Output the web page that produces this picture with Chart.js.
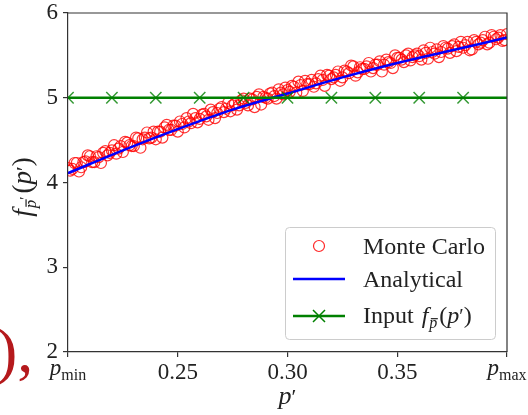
<!DOCTYPE html>
<html>
<head>
<meta charset="utf-8">
<script src="https://cdn.jsdelivr.net/npm/chart.js@4.4.0/dist/chart.umd.min.js"></script>
<style>
  html, body { margin: 0; padding: 0; background: #fff; }
  canvas { display: block; }
</style>
</head>
<body>
<canvas id="chart" width="528" height="415"></canvas>
<script>
// Monte Carlo samples, run 1 (p', f)
const mcP = [0.200,0.202,0.204,0.206,0.208,0.210,0.212,0.214,0.216,0.218,
  0.220,0.222,0.224,0.226,0.228,0.230,0.232,0.234,0.236,0.238,
  0.240,0.242,0.244,0.246,0.248,0.250,0.252,0.254,0.256,0.258,
  0.260,0.262,0.264,0.266,0.268,0.270,0.272,0.274,0.276,0.278,
  0.280,0.282,0.284,0.286,0.288,0.290,0.292,0.294,0.296,0.298,
  0.300,0.302,0.304,0.306,0.308,0.310,0.312,0.314,0.316,0.318,
  0.320,0.322,0.324,0.326,0.328,0.330,0.332,0.334,0.336,0.338,
  0.340,0.342,0.344,0.346,0.348,0.350,0.352,0.354,0.356,0.358,
  0.360,0.362,0.364,0.366,0.368,0.370,0.372,0.374,0.376,0.378,
  0.380,0.382,0.384,0.386,0.388,0.390,0.392,0.394,0.396,0.398,0.400];
const mcF = [4.17,4.16,4.23,4.18,4.25,4.31,4.24,4.30,4.35,4.32,
  4.38,4.34,4.43,4.48,4.44,4.43,4.52,4.51,4.59,4.53,
  4.51,4.60,4.65,4.62,4.67,4.60,4.69,4.76,4.70,4.76,
  4.75,4.81,4.74,4.83,4.82,4.89,4.87,4.84,4.93,4.91,
  4.99,4.91,4.98,5.01,4.92,5.00,5.05,5.02,5.10,5.04,
  5.09,5.14,5.06,5.15,5.20,5.16,5.13,5.22,5.21,5.27,
  5.22,5.27,5.20,5.32,5.29,5.37,5.30,5.34,5.37,5.31,
  5.39,5.43,5.39,5.42,5.35,5.47,5.45,5.50,5.44,5.50,
  5.49,5.56,5.46,5.54,5.57,5.54,5.59,5.53,5.63,5.60,
  5.59,5.66,5.57,5.66,5.65,5.72,5.65,5.72,5.71,5.67,5.75];

// Monte Carlo samples, run 2
const mcP2 = [0.201,0.203,0.205,0.207,0.209,0.211,0.213,0.215,0.217,0.219,
  0.221,0.223,0.225,0.227,0.229,0.231,0.233,0.235,0.237,0.239,
  0.241,0.243,0.245,0.247,0.249,0.251,0.253,0.255,0.257,0.259,
  0.261,0.263,0.265,0.267,0.269,0.271,0.273,0.275,0.277,0.279,
  0.281,0.283,0.285,0.287,0.289,0.291,0.293,0.295,0.297,0.299,
  0.301,0.303,0.305,0.307,0.309,0.311,0.313,0.315,0.317,0.319,
  0.321,0.323,0.325,0.327,0.329,0.331,0.333,0.335,0.337,0.339,
  0.341,0.343,0.345,0.347,0.349,0.351,0.353,0.355,0.357,0.359,
  0.361,0.363,0.365,0.367,0.369,0.371,0.373,0.375,0.377,0.379,
  0.381,0.383,0.385,0.387,0.389,0.391,0.393,0.395,0.397,0.399];
const mcF2 = [4.14,4.23,4.13,4.24,4.32,4.24,4.31,4.23,4.37,4.35,
  4.44,4.40,4.36,4.47,4.43,4.53,4.41,4.53,4.52,4.60,
  4.60,4.53,4.68,4.62,4.67,4.72,4.65,4.72,4.81,4.71,
  4.80,4.78,4.86,4.76,4.87,4.83,4.94,4.91,4.86,4.97,
  4.94,4.99,4.89,5.04,5.01,4.99,5.06,4.99,5.06,5.12,
  5.07,5.13,5.19,5.08,5.16,5.21,5.17,5.26,5.14,5.26,
  5.24,5.31,5.24,5.31,5.38,5.26,5.36,5.34,5.41,5.35,
  5.39,5.31,5.45,5.41,5.50,5.47,5.42,5.52,5.48,5.52,
  5.45,5.53,5.59,5.52,5.48,5.61,5.58,5.61,5.55,5.66,
  5.62,5.56,5.68,5.63,5.68,5.63,5.74,5.69,5.74,5.68];

// Analytical curve
const anaP = [0.200, 0.225, 0.250, 0.275, 0.300, 0.325, 0.350, 0.375, 0.400];
const anaF = [4.11, 4.38, 4.63, 4.86, 5.05, 5.24, 5.41, 5.56, 5.71];

// Input distribution (flat)
const inP = [0.20, 0.22, 0.24, 0.26, 0.28, 0.30, 0.32, 0.34, 0.36, 0.38, 0.40];
const inF = [5, 5, 5, 5, 5, 5, 5, 5, 5, 5, 5];

const xTicks = [0.20, 0.25, 0.30, 0.35, 0.40];
const yTicks = [2, 3, 4, 5, 6];

const SERIF = '"Liberation Serif", "Times New Roman", serif';
const AXIS = '#333333';

function toXY(xs, ys) {
  return xs.map((x, i) => ({ x: x, y: ys[i] }));
}

// draw a run of text pieces (for sub/superscripts); returns total width
function rich(ctx, parts, x, y, draw) {
  let cx = x;
  for (const p of parts) {
    ctx.font = (p.i ? 'italic ' : '') + p.s + 'px ' + SERIF;
    const w = ctx.measureText(p.t).width;
    if (draw) {
      ctx.fillText(p.t, cx, y + (p.dy || 0));
      if (p.bar) ctx.fillRect(cx + 1.5, y + (p.dy || 0) - p.s * 0.62, w - 1, 1.2);
    }
    cx += w + (p.gap || 0);
  }
  return cx - x;
}

const fSub = [
  { t: 'f', s: 27, i: true, gap: 1 },
  { t: 'p', s: 17, i: true, dy: 5, bar: true },
  { t: '\u2032', s: 15, dy: -1, gap: 3 },
  { t: '(', s: 27 },
  { t: 'p', s: 27, i: true },
  { t: '\u2032', s: 22 },
  { t: ')', s: 27 }
];

const decor = {
  id: 'decor',
  afterDraw(chart) {
    const ctx = chart.ctx;
    const a = chart.chartArea;
    const xs = chart.scales.x;
    ctx.save();
    // top and right spines
    ctx.strokeStyle = AXIS;
    ctx.lineWidth = 1.2;
    ctx.beginPath();
    ctx.moveTo(a.left, a.top);
    ctx.lineTo(a.right, a.top);
    ctx.lineTo(a.right, a.bottom);
    ctx.stroke();

    ctx.fillStyle = '#222';
    ctx.textBaseline = 'alphabetic';
    ctx.textAlign = 'left';
    // p_min / p_max tick labels
    [[xTicks[0], 'min'], [xTicks[xTicks.length - 1], 'max']].forEach(([v, sub]) => {
      const parts = [{ t: 'p', s: 23, i: true }, { t: sub, s: 16, dy: 5 }];
      const w = rich(ctx, parts, 0, 0, false);
      rich(ctx, parts, xs.getPixelForValue(v) - w / 2, 375, true);
    });

    // x axis title
    const px = [{ t: 'p', s: 26, i: true }, { t: '\u2032', s: 22 }];
    const pw = rich(ctx, px, 0, 0, false);
    rich(ctx, px, (a.left + a.right) / 2 - pw / 2, 404, true);

    // y axis title, rotated
    ctx.save();
    ctx.translate(31, 187);
    ctx.rotate(-Math.PI / 2);
    const fw = rich(ctx, fSub, 0, 0, false);
    rich(ctx, fSub, -fw / 2, 0, true);
    ctx.restore();

    // legend
    const lx = 285.5, ly = 227.5, lw = 210, lh = 112;
    ctx.beginPath();
    ctx.roundRect(lx, ly, lw, lh, 4);
    ctx.fillStyle = 'rgba(255,255,255,0.8)';
    ctx.fill();
    ctx.strokeStyle = '#cccccc';
    ctx.lineWidth = 1;
    ctx.stroke();

    const rows = [246, 279, 316];
    ctx.strokeStyle = 'rgba(255,0,0,0.85)';
    ctx.lineWidth = 1.2;
    ctx.beginPath();
    ctx.arc(319, rows[0], 5.5, 0, Math.PI * 2);
    ctx.stroke();
    ctx.strokeStyle = '#0000ff';
    ctx.lineWidth = 2.5;
    ctx.beginPath();
    ctx.moveTo(293, rows[1]);
    ctx.lineTo(345, rows[1]);
    ctx.stroke();
    ctx.strokeStyle = '#008000';
    ctx.beginPath();
    ctx.moveTo(293, rows[2]);
    ctx.lineTo(345, rows[2]);
    ctx.stroke();
    ctx.lineWidth = 1.5;
    ctx.beginPath();
    ctx.moveTo(313, rows[2] - 6); ctx.lineTo(325, rows[2] + 6);
    ctx.moveTo(313, rows[2] + 6); ctx.lineTo(325, rows[2] - 6);
    ctx.stroke();

    ctx.fillStyle = '#222';
    rich(ctx, [{ t: 'Monte Carlo', s: 24 }], 363, rows[0] + 8, true);
    rich(ctx, [{ t: 'Analytical', s: 24 }], 363, rows[1] + 8, true);
    rich(ctx, [
      { t: 'Input ', s: 24, gap: 2 },
      { t: 'f', s: 24, i: true, gap: 1 },
      { t: 'p', s: 16, i: true, dy: 5, bar: true, gap: 2 },
      { t: '(', s: 24 },
      { t: 'p', s: 24, i: true },
      { t: '\u2032', s: 20 },
      { t: ')', s: 24 }
    ], 363, rows[2] + 7, true);

    // stray red text at the left edge
    ctx.fillStyle = '#b5191c';
    ctx.font = '64px ' + SERIF;
    ctx.fillText('),', -4, 372);
    ctx.restore();
  }
};

const mcStyle = {
  showLine: false,
  pointStyle: 'circle',
  pointRadius: 5.5,
  pointBorderWidth: 1.2,
  pointBorderColor: 'rgba(255,0,0,0.8)',
  pointBackgroundColor: 'rgba(0,0,0,0)',
  order: 3
};

new Chart(document.getElementById('chart'), {
  type: 'scatter',
  data: {
    datasets: [
      Object.assign({ label: 'Monte Carlo', data: toXY(mcP, mcF) }, mcStyle),
      Object.assign({ label: 'Monte Carlo 2', data: toXY(mcP2, mcF2) }, mcStyle),
      {
        label: 'Analytical',
        data: toXY(anaP, anaF),
        showLine: true,
        borderColor: '#0000ff',
        borderWidth: 2.5,
        pointRadius: 0,
        cubicInterpolationMode: 'monotone',
        order: 2
      },
      {
        label: 'Input',
        data: toXY(inP, inF),
        showLine: true,
        borderColor: '#008000',
        borderWidth: 2.5,
        pointStyle: 'crossRot',
        pointRadius: inP.map((p, i) => i === inP.length - 1 ? 0 : 8),
        pointBorderWidth: 1.5,
        pointBorderColor: 'rgba(0,128,0,0.8)',
        order: 1
      }
    ]
  },
  options: {
    responsive: false,
    devicePixelRatio: 1,
    animation: false,
    layout: { padding: { top: 13, right: 21, left: 0, bottom: 0 } },
    plugins: { legend: { display: false }, tooltip: { enabled: false } },
    scales: {
      x: {
        type: 'linear',
        min: xTicks[0],
        max: xTicks[xTicks.length - 1],
        afterFit(s) { s.height = 63; },
        afterBuildTicks(s) { s.ticks = xTicks.map(v => ({ value: v })); },
        grid: { display: true, drawOnChartArea: false, tickLength: 5, color: AXIS, lineWidth: 1.2 },
        border: { display: true, color: AXIS, width: 1.2 },
        ticks: {
          padding: 2,
          maxRotation: 0,
          color: '#222',
          font: { family: SERIF, size: 23 },
          callback: (v) => (v === xTicks[0] || v === xTicks[xTicks.length - 1]) ? '' : v.toFixed(2)
        }
      },
      y: {
        min: yTicks[0],
        max: yTicks[yTicks.length - 1],
        afterFit(s) { s.width = 68; },
        afterBuildTicks(s) { s.ticks = yTicks.map(v => ({ value: v })); },
        grid: { display: true, drawOnChartArea: false, tickLength: 5, color: AXIS, lineWidth: 1.2 },
        border: { display: true, color: AXIS, width: 1.2 },
        ticks: {
          padding: 5,
          color: '#222',
          font: { family: SERIF, size: 23, lineHeight: 0.5 },
          callback: (v) => String(v)
        }
      }
    }
  },
  plugins: [decor]
});
</script>
</body>
</html>
